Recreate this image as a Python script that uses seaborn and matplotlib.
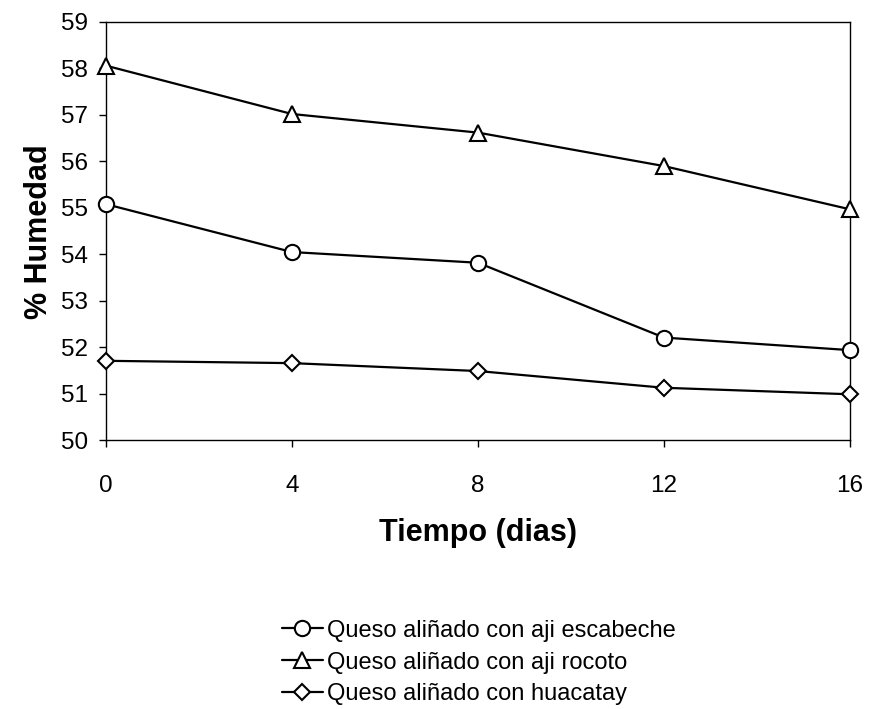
import matplotlib
matplotlib.use("Agg")
import matplotlib.pyplot as plt
import seaborn as sns
import pandas as pd

dias = [0, 4, 8, 12, 16]
escabeche = [55.08, 54.05, 53.82, 52.21, 51.94]
rocoto = [58.06, 57.02, 56.62, 55.90, 54.97]
huacatay = [51.71, 51.66, 51.49, 51.13, 50.99]
series_names = ["Queso aliñado con aji escabeche",
                "Queso aliñado con aji rocoto",
                "Queso aliñado con huacatay"]
y_ticks = [50, 51, 52, 53, 54, 55, 56, 57, 58, 59]
x_ticks = [0, 4, 8, 12, 16]

sns.set_theme(style="white")
plt.rcParams['font.family'] = ['Liberation Sans', 'DejaVu Sans']
plt.rcParams['text.color'] = 'black'

rows = []
for name, vals in zip(series_names, [escabeche, rocoto, huacatay]):
    for d, v in zip(dias, vals):
        rows.append({"dias": d, "humedad": v, "serie": name})
df = pd.DataFrame(rows)

fig = plt.figure(figsize=(8.69, 7.09), dpi=100)
ax = fig.add_axes([0.122, 0.379, 0.856, 0.59])

markers = {series_names[0]: "o", series_names[1]: "^", series_names[2]: "D"}
sizes = {series_names[0]: 11, series_names[1]: 11, series_names[2]: 8.5}
for name in series_names:
    sub = df[df["serie"] == name]
    sns.lineplot(data=sub, x="dias", y="humedad", ax=ax, color="black",
                 linewidth=1.6, marker=markers[name], markersize=sizes[name],
                 markerfacecolor="white", markeredgecolor="black",
                 markeredgewidth=1.5, label=name, legend=False, clip_on=False,
                 zorder=3)

ax.set_xlim(0, 16)
ax.set_ylim(50, 59)
ax.set_xticks(x_ticks)
ax.set_yticks(y_ticks)
ax.tick_params(axis="both", which="major", labelsize=17.5, direction="out",
               length=5, width=1, color="black", bottom=True, left=True,
               labelcolor="black")
ax.tick_params(axis="x", pad=20)
ax.tick_params(axis="y", pad=8)
for s in ax.spines.values():
    s.set_color("black")
    s.set_linewidth(1)
ax.set_xlabel("Tiempo (dias)", fontsize=22, fontweight="bold", labelpad=15, color="black")
ax.set_ylabel("% Humedad", fontsize=22, fontweight="bold", labelpad=5, color="black")

handles, labels = ax.get_legend_handles_labels()
leg = fig.legend(handles, labels, loc="upper left",
                 bbox_to_anchor=(0.325, 0.126), bbox_transform=fig.transFigure,
                 frameon=False, fontsize=17, handlelength=1.7, handletextpad=0.2,
                 labelspacing=0.42, borderaxespad=0, borderpad=0)
for t in leg.get_texts():
    t.set_color("black")

fig.savefig("out.png", dpi=100, facecolor="white")
